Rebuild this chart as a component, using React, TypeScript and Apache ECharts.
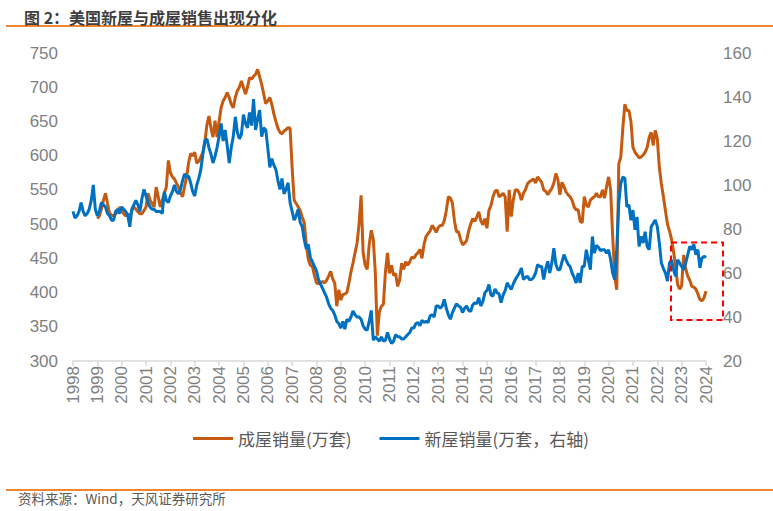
import React, { useEffect, useRef } from "react";
import * as echarts from "echarts";

// Monthly series, one row per calendar year
const existingStartYear = 1999;
const newStartYear = 1998;

// 成屋销量 (万套), 1999-01 .. 2024-01
const existingSales: number[] = [
  508, 512, 522, 535, 545, 530, 516, 513, 512, 515, 518, 525, // 1999
  520, 515, 512, 515, 510, 520, 525, 522, 518, 515, 515, 520, // 2000
  525, 545, 535, 530, 525, 554, 540, 525, 535, 545, 554, 593, // 2001
  575, 569, 566, 560, 554, 545, 540, 555, 569, 590, 603, 600, // 2002
  605, 589, 592, 598, 605, 620, 645, 658, 640, 627, 651, 627, // 2003
  650, 670, 680, 685, 692, 685, 675, 670, 685, 695, 700, 709, // 2004
  700, 690, 700, 714, 712, 716, 719, 726, 715, 704, 690, 676, // 2005
  680, 685, 675, 661, 650, 640, 634, 632, 636, 638, 641, 640, // 2006
  583, 535, 530, 525, 520, 510, 502, 470, 448, 440, 438, 425, // 2007
  414, 413, 415, 416, 414, 418, 424, 431, 420, 414, 380, 404, // 2008
  389, 397, 398, 400, 414, 430, 443, 458, 472, 500, 542, 458, // 2009
  440, 434, 470, 491, 478, 430, 337, 372, 380, 383, 430, 458, // 2010
  428, 440, 425, 428, 409, 418, 443, 434, 445, 440, 445, 452, // 2011
  450, 455, 458, 463, 450, 470, 482, 486, 490, 498, 494, 488, // 2012
  495, 498, 498, 505, 520, 540, 538, 531, 505, 489, 489, 478, // 2013
  470, 472, 476, 490, 500, 508, 504, 510, 518, 505, 499, 508, // 2014
  494, 520, 527, 540, 548, 550, 540, 542, 545, 540, 489, 550, // 2015
  511, 535, 550, 550, 545, 535, 545, 550, 559, 562, 564, 566, // 2016
  560, 569, 565, 561, 550, 548, 543, 548, 552, 560, 574, 565, // 2017
  543, 561, 555, 547, 543, 540, 535, 525, 521, 521, 504, 502, // 2018
  540, 528, 525, 535, 538, 540, 545, 540, 540, 550, 538, 555, // 2019
  569, 550, 482, 424, 404, 588, 598, 640, 675, 666, 666, 650, // 2020
  612, 605, 601, 597, 598, 601, 605, 612, 627, 634, 615, 637, // 2021
  625, 583, 559, 540, 520, 500, 490, 478, 460, 440, 412, 405, // 2022
  410, 455, 435, 424, 418, 409, 408, 405, 398, 390, 388, 392, // 2023
  402, // 2024
];

// 新屋销量 (万套, 右轴), 1998-01 .. 2024-01
const newSales: number[] = [
  88, 85, 86, 88, 92, 88, 86, 87, 89, 93, 100, 89, // 1998
  86, 88, 92, 91, 90, 87, 86, 84, 84, 88, 89, 87, // 1999
  90, 89, 88, 86, 81, 89, 91, 93, 91, 88, 94, 98, // 2000
  95, 92, 90, 89, 89, 88, 88, 88, 87, 97, 93, 92, // 2001
  95, 97, 100, 97, 96, 98, 102, 105, 104, 104, 101, 97, // 2002
  95, 100, 103, 107, 114, 120, 121, 117, 114, 110, 113, 117, // 2003
  122, 128, 120, 125, 118, 110, 117, 122, 131, 124, 121, 123, // 2004
  132, 128, 126, 133, 127, 139, 125, 130, 134, 122, 126, 125, // 2005
  117, 108, 112, 109, 107, 102, 98, 103, 96, 98, 101, 92, // 2006
  88, 84, 86, 89, 83, 81, 75, 71, 73, 67, 65, 63, // 2007
  61, 57, 55, 53, 51, 49, 46, 44, 43, 41, 38, 37, // 2008
  35, 38, 34.5, 39, 38, 40, 42.7, 41, 40, 40, 39, 36, // 2009
  34.5, 34, 38, 43, 29.5, 31, 30, 29, 31, 29, 29.5, 33, // 2010
  30, 28, 29, 32, 31, 31, 30, 30, 31, 32, 33, 35, // 2011
  35, 37, 37.5, 36, 38.5, 37.5, 38, 37.5, 40.5, 41, 40, 45, // 2012
  45, 44, 45, 48, 44, 41, 39, 42, 44, 46, 45, 44.5, // 2013
  42, 44, 45, 43, 42.5, 45.5, 46.5, 46, 48.8, 45, 47, 51, // 2014
  52, 54.8, 50, 49.5, 52.8, 51, 50.5, 46.5, 50, 52, 55.5, 54, // 2015
  52.5, 55, 57, 58.5, 60, 62.3, 57, 58, 58.5, 57, 57, 58, // 2016
  60, 63.8, 63, 63, 57, 62, 65.3, 60, 64.5, 71.3, 64, 61.5, // 2017
  61.5, 65, 68.4, 66, 64, 63, 60, 58, 55.5, 60, 55.5, 63, // 2018
  63, 70.6, 66, 61.5, 76.6, 69, 72.5, 71.7, 70.1, 70.6, 70.6, 69, // 2019
  70.6, 66, 60, 57, 70.6, 91.7, 100.7, 103.7, 103, 90, 91, 84, // 2020
  88.6, 79.6, 85.5, 72.1, 76.6, 73.6, 78.8, 72.1, 70.6, 81.1, 82.5, 84.1, // 2021
  81.1, 73.6, 64.6, 62, 60, 56.3, 64.6, 66, 61.5, 58.5, 66, 64.6, // 2022
  63, 61.5, 64.6, 68.3, 72.1, 70.6, 73, 68.3, 70.6, 62.3, 66.8, 67.6, // 2023
  67, // 2024
];

const xMinYear = 1998;
const xMaxYear = 2024;
const leftTicks = { min: 300, max: 750, interval: 50 };
const rightTicks = { min: 20, max: 160, interval: 20 };

const seriesNames = ["成屋销量(万套)", "新屋销量(万套，右轴)"];
const titleText = "图 2：美国新屋与成屋销售出现分化";
const sourceText = "资料来源：Wind，天风证券研究所";

const toPoints = (startYear: number, values: number[]) =>
  values.map((v, i) => [startYear + i / 12, v]);

const CJK = "'Noto Sans CJK SC', 'Noto Sans', sans-serif";
const NUM = "'Liberation Sans', Arial, sans-serif";

export default function App() {
  const ref = useRef<HTMLDivElement>(null);

  useEffect(() => {
    if (!ref.current) return;
    const chart = echarts.init(ref.current, undefined, { renderer: "svg" });
    const axisLabelStyle = { color: "#7f7f7f", fontSize: 17, fontFamily: NUM };

    chart.setOption({
      animation: false,
      backgroundColor: "#ffffff",
      title: {
        text: titleText,
        left: 19,
        top: 4,
        textStyle: { fontFamily: CJK, fontSize: 16, fontWeight: "bold", color: "#3f3f3f" },
      },
      grid: { left: 73, right: 67, top: 53, bottom: 150 },
      legend: {
        left: 188,
        top: 425,
        itemWidth: 40,
        itemHeight: 3,
        itemGap: 28,
        icon: "rect",
        textStyle: { fontFamily: CJK, fontSize: 17, color: "#595959" },
        data: seriesNames,
      },
      xAxis: {
        type: "value",
        min: xMinYear,
        max: xMaxYear,
        interval: 1,
        splitLine: { show: false },
        axisLine: { show: true, lineStyle: { color: "#d9d9d9", width: 1.5 } },
        axisTick: { show: true, length: 5, lineStyle: { color: "#d9d9d9", width: 1.5 } },
        axisLabel: {
          ...axisLabelStyle,
          rotate: 90,
          margin: 5,
          formatter: (v: number) => String(Math.round(v)),
        },
      },
      yAxis: [
        {
          type: "value",
          ...leftTicks,
          splitLine: { show: false },
          axisLine: { show: false },
          axisTick: { show: false },
          axisLabel: { ...axisLabelStyle, margin: 15 },
        },
        {
          type: "value",
          position: "right",
          ...rightTicks,
          splitLine: { show: false },
          axisLine: { show: false },
          axisTick: { show: false },
          axisLabel: { ...axisLabelStyle, margin: 17 },
        },
      ],
      series: [
        {
          name: seriesNames[0],
          type: "line",
          yAxisIndex: 0,
          showSymbol: false,
          symbol: "none",
          lineStyle: { color: "#C55A11", width: 3 },
          itemStyle: { color: "#C55A11" },
          data: toPoints(existingStartYear, existingSales),
        },
        {
          name: seriesNames[1],
          type: "line",
          yAxisIndex: 1,
          showSymbol: false,
          symbol: "none",
          lineStyle: { color: "#0070C0", width: 3 },
          itemStyle: { color: "#0070C0" },
          data: toPoints(newStartYear, newSales),
        },
      ],
      graphic: [
        {
          type: "line",
          shape: { x1: 6, y1: 26, x2: 773, y2: 26 },
          style: { stroke: "#F0862F", lineWidth: 2 },
        },
        {
          type: "rect",
          shape: { x: 671, y: 242.5, width: 52, height: 77.5 },
          style: { fill: "none", stroke: "#FF0000", lineWidth: 2, lineDash: [6, 4] },
          z: 10,
        },
        {
          type: "line",
          shape: { x1: 6, y1: 490, x2: 773, y2: 490 },
          style: { stroke: "#F0862F", lineWidth: 2 },
        },
        {
          type: "text",
          left: 18,
          top: 491,
          style: {
            text: sourceText,
            fontFamily: CJK,
            fontSize: 13.5,
            fill: "#595959",
          },
        },
      ],
    });

    return () => chart.dispose();
  }, []);

  return (
    <div
      ref={ref}
      style={{ position: "absolute", left: 0, top: 0, width: 773, height: 511 }}
    />
  );
}
